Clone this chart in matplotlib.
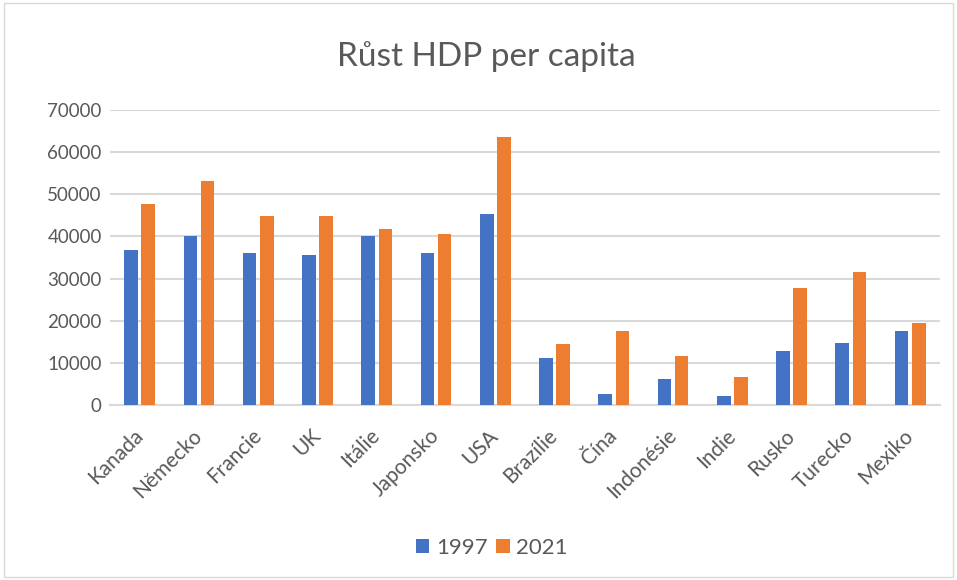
import numpy as np
import matplotlib.pyplot as plt
from matplotlib.patches import Rectangle

countries = ["Kanada", "Německo", "Francie", "UK", "Itálie", "Japonsko", "USA",
             "Brazílie", "Čína", "Indonésie", "Indie", "Rusko", "Turecko", "Mexiko"]
gdp_1997 = [36800, 40100, 36100, 35600, 40000, 36000, 45400,
            11200, 2600, 6200, 2100, 12900, 14800, 17600]
gdp_2021 = [47800, 53100, 44800, 44800, 41800, 40600, 63600,
            14500, 17500, 11600, 6500, 27800, 31600, 19500]
yticks = [0, 10000, 20000, 30000, 40000, 50000, 60000, 70000]

plt.rcParams['font.family'] = ['Lato', 'DejaVu Sans']
text_color = '#595959'
grid_color = '#d9d9d9'

fig = plt.figure(figsize=(9.57, 5.8), dpi=100)
ax = fig.add_axes([0.115, 0.302, 0.867, 0.508])

x = np.arange(len(countries))
w = 0.23
ax.bar(x - 0.145, gdp_1997, w, color='#4472c4', label='1997', zorder=3)
ax.bar(x + 0.145, gdp_2021, w, color='#ed7d31', label='2021', zorder=3)

ax.set_xlim(-0.5, len(countries) - 0.5)
ax.set_ylim(0, 70000)
ax.set_yticks(yticks)
ax.set_yticklabels([str(v) for v in yticks])
ax.set_xticks(x)
ax.set_xticklabels(countries, rotation=45, ha='right', va='center',
                   rotation_mode='anchor')
ax.tick_params(length=0, colors=text_color)
ax.tick_params(axis='y', pad=6, labelsize=13.5)
ax.tick_params(axis='x', pad=20, labelsize=15)
ax.grid(axis='y', color=grid_color, linewidth=1.5, zorder=0)
for s in ['top', 'right', 'left']:
    ax.spines[s].set_visible(False)
ax.spines['bottom'].set_color(grid_color)
ax.spines['bottom'].set_linewidth(1.5)

fig.text(0.508, 0.903, "Růst HDP per capita", ha='center', va='center',
         fontsize=24, color=text_color)
fig.legend(loc='center', bbox_to_anchor=(0.514, 0.055), ncol=2, frameon=False,
           fontsize=16, labelcolor=text_color, handlelength=0.6, handleheight=0.6,
           columnspacing=0.4, handletextpad=0.3)

fig.add_artist(Rectangle((0.004, 0.006), 0.992, 0.988, transform=fig.transFigure,
                         fill=False, edgecolor=grid_color, linewidth=1))

fig.savefig("out.png", dpi=100)
